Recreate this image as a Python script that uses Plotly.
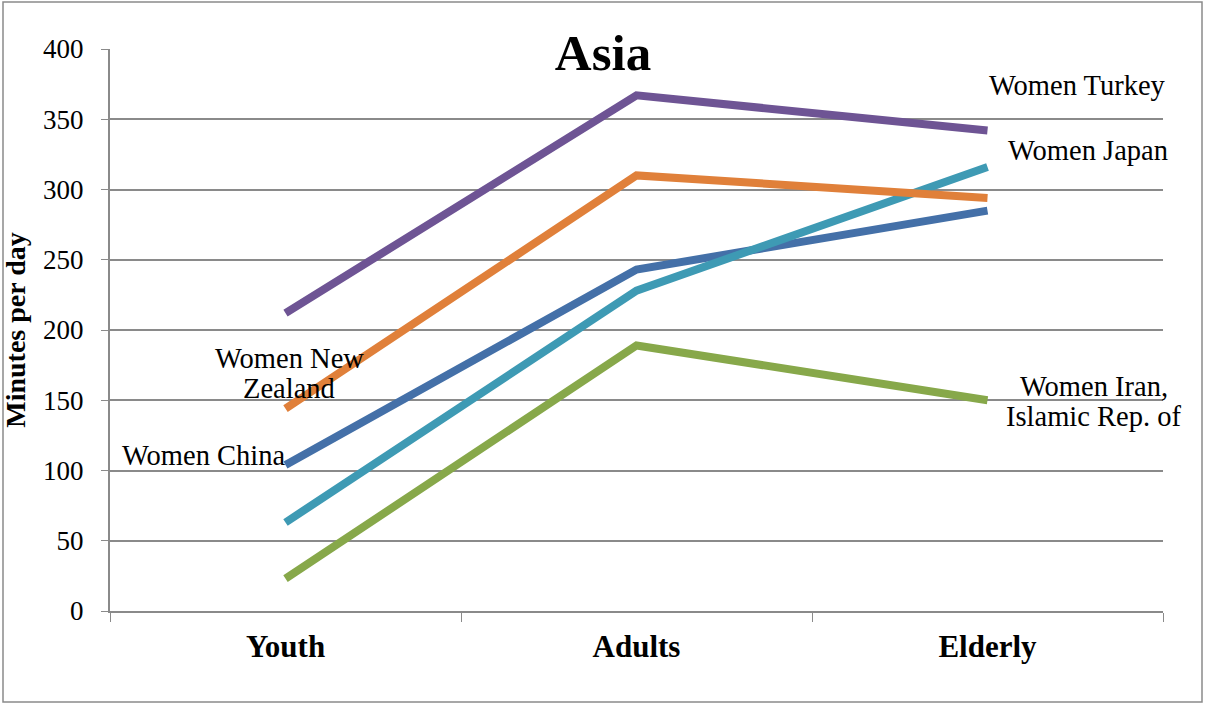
import plotly.graph_objects as go

categories = ["Youth", "Adults", "Elderly"]
series_names = ["Women China", "Women Iran, Islamic Rep. of", "Women Turkey", "Women Japan", "Women New Zealand"]
china = [104, 243, 285]
iran = [23, 189, 150]
turkey = [212, 367, 342]
japan = [63, 228, 316]
new_zealand = [144, 310, 294]
colors = ["#4470A8", "#87A84A", "#6E5494", "#3E9AB4", "#E0803A"]
y_ticks = [0, 50, 100, 150, 200, 250, 300, 350, 400]

values = [china, iran, turkey, japan, new_zealand]

fig = go.Figure()
for name, vals, col in zip(series_names, values, colors):
    fig.add_trace(go.Scatter(x=categories, y=vals, mode="lines", name=name,
                             line=dict(color=col, width=8), showlegend=False))

serif = "Liberation Serif"
ann_font = dict(family=serif, size=28.5, color="#000")
L, R, T, B = 110, 42, 49, 93
W, H = 1205, 704
pw, ph = W - L - R, H - T - B

labels = [
    ("Women Turkey", (1168 - L) / pw, 374, "right", "paper"),
    ("Women Japan", 2.054, 328, "left", "x"),
    ("Women Iran,", 2.302, 160, "center", "x"),
    ("Islamic Rep. of", 2.302, 138.5, "center", "x"),
    ("Women New", 0.011, 180, "center", "x"),
    ("Zealand", 0.011, 158.5, "center", "x"),
    ("Women China", 0.004, 110.5, "right", "x"),
]
annotations = [dict(text=t, x=x, y=y, xref=xr, yref="y", xanchor=a, yanchor="middle",
                    showarrow=False, font=ann_font) for t, x, y, a, xr in labels]

x0 = (3 - L) / pw
x1 = (1202 - L) / pw
y1 = (H - B - 2) / ph
y0 = (H - B - 702) / ph

fig.update_layout(
    width=W, height=H,
    margin=dict(l=L, r=R, t=T, b=B, autoexpand=False),
    paper_bgcolor="white", plot_bgcolor="white",
    title=dict(text="<b>Asia</b>", x=603 / W, xanchor="center",
               y=1 - 52 / H, yanchor="middle", font=dict(family=serif, size=51, color="#000")),
    annotations=annotations,
    shapes=[dict(type="rect", xref="paper", yref="paper", x0=x0, x1=x1, y0=y0, y1=y1,
                 line=dict(color="#8a8a8a", width=1.5), fillcolor="rgba(0,0,0,0)", layer="below")],
    xaxis=dict(type="category", range=[-0.5, 2.5], tickson="boundaries", ticks="outside",
               ticklen=9, tickcolor="#8a8a8a", tickwidth=1, showline=True, linecolor="#8a8a8a",
               linewidth=2, showgrid=False, zeroline=False, automargin=False,
               tickfont=dict(family=serif, size=31, color="#000"), ticklabelstandoff=7,
               tickprefix="<b>", ticksuffix="</b>"),
    yaxis=dict(range=[0, 400], tickvals=y_ticks, ticks="outside", ticklen=7,
               tickcolor="#8a8a8a", showline=True, linecolor="#8a8a8a", linewidth=2,
               showgrid=True, gridcolor="#8a8a8a", gridwidth=1.5, zeroline=False, automargin=False,
               tickfont=dict(family=serif, size=27, color="#000"), ticklabelstandoff=12,
               title=dict(text="<b>Minutes per day</b>", font=dict(family=serif, size=28, color="#000"),
                          standoff=11)),
)

fig.write_html("out.html", config={"displayModeBar": False},
               post_script="document.body.style.margin='0';document.body.style.overflow='hidden';")
